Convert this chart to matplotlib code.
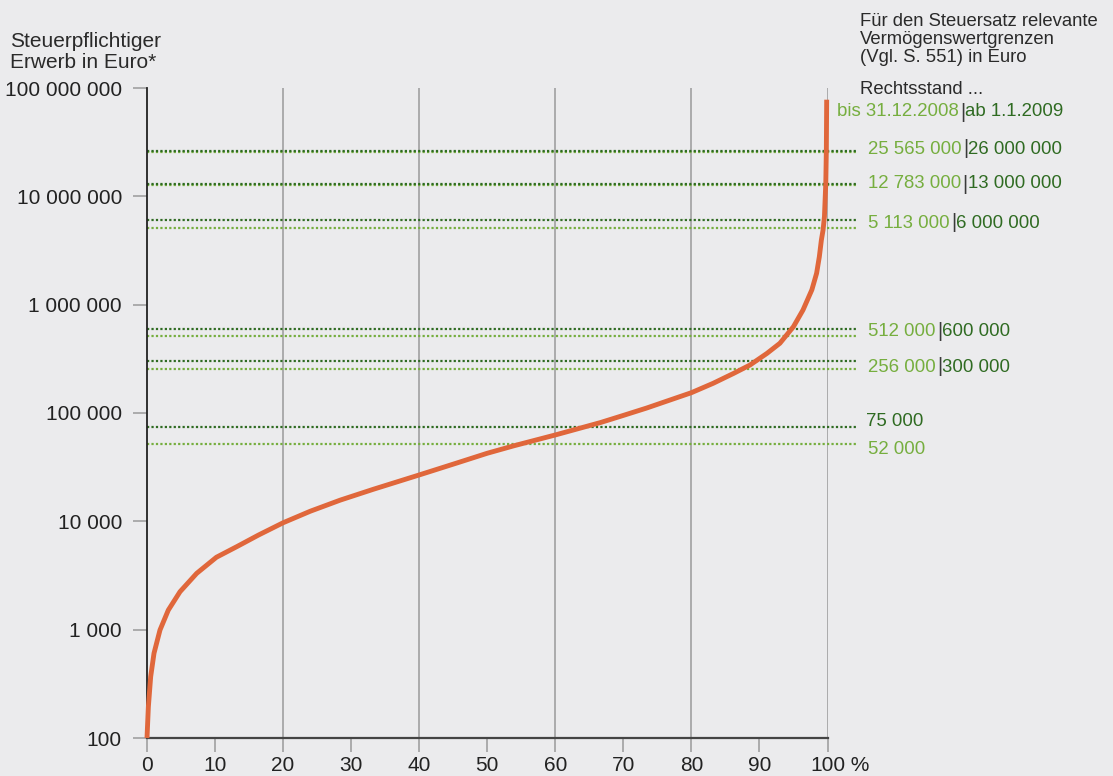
import matplotlib.pyplot as plt
from matplotlib.ticker import FixedLocator, NullLocator

plt.rcParams['font.family'] = ['Liberation Sans', 'DejaVu Sans']

# Anteil der Erwerbe (%) und steuerpflichtiger Erwerb (Euro)
anteil = [0, 0.2, 0.54, 1.03, 1.91, 3.13, 4.85, 7.3, 10.2, 13.2, 16.4, 20, 24,
          28.4, 33.3, 40, 45.5, 50, 53.9, 60, 66.6, 70, 73.4, 80, 83.2, 86.2,
          88.6, 91.1, 93.0, 95.0, 96.4, 97.7, 98.4, 98.8, 99.1, 99.35, 99.55,
          99.75, 99.83, 99.88]
erwerb = [100, 194, 368, 606, 993, 1515, 2240, 3310, 4660, 5840, 7480, 9700,
          12400, 15700, 19800, 26800, 34500, 42500, 49800, 62700, 81500, 95000,
          111000, 154000, 188000, 232000, 277000, 355000, 440000, 627000,
          893000, 1370000, 1950000, 2770000, 3950000, 4900000, 6500000,
          13300000, 27000000, 78000000]

# Wertgrenzen alt (bis 31.12.2008) und neu (ab 1.1.2009)
grenzen_alt = [25565000, 12783000, 5113000, 512000, 256000, 52000]
grenzen_neu = [26000000, 13000000, 6000000, 600000, 300000, 75000]
label_alt = ['25 565 000', '12 783 000', '5 113 000', '512 000', '256 000', '52 000']
label_neu = ['26 000 000', '13 000 000', '6 000 000', '600 000', '300 000', '75 000']

yticks = [100, 1000, 10000, 100000, 1000000, 10000000, 100000000]
ylabels = ['100', '1 000', '10 000', '100 000', '1 000 000', '10 000 000', '100 000 000']
xticks = list(range(0, 101, 10))

bg = '#ebebed'
hell = '#76ae3f'
dunkel = '#2f6b22'
orange = '#e0673b'

W, H = 1113, 776
fig = plt.figure(figsize=(W / 100, H / 100), dpi=100, facecolor=bg)
ax = fig.add_axes([147 / W, (H - 738) / H, 680.5 / W, (738 - 88) / H])
ax.set_facecolor(bg)
ax.set_yscale('log')
ax.set_xlim(0, 100)
ax.set_ylim(100, 1e8)

for x in [20, 40, 60, 80, 100]:
    ax.axvline(x, color='#9a9a9a', lw=1.1, zorder=1)

for v in grenzen_alt:
    ax.plot([0, 104.5], [v, v], ls=(0, (1, 1)), color=hell, lw=1.6,
            clip_on=False, zorder=2)
for v in grenzen_neu:
    ax.plot([0, 104.5], [v, v], ls=(0, (1, 1)), color=dunkel, lw=1.6,
            clip_on=False, zorder=2)

ax.plot(anteil, erwerb, color=orange, lw=3.5, solid_capstyle='butt',
        solid_joinstyle='round', zorder=3, clip_on=False)

for s in ['top', 'right']:
    ax.spines[s].set_visible(False)
ax.spines['left'].set_color('#222222')
ax.spines['left'].set_linewidth(1.3)
ax.spines['bottom'].set_color('#444444')
ax.spines['bottom'].set_linewidth(1.6)

ax.yaxis.set_major_locator(FixedLocator(yticks))
ax.yaxis.set_minor_locator(NullLocator())
ax.set_yticklabels(ylabels)
ax.set_xticks(xticks)
ax.set_xticklabels([str(x) for x in xticks])
ax.tick_params(axis='both', colors='#9a9a9a', length=10, width=1.1,
               labelcolor='#222222', labelsize=15, pad=3)
ax.tick_params(axis='y', pad=8)

# Prozentzeichen hinter der letzten Beschriftung
fig.canvas.draw()
last = ax.get_xticklabels()[-1]
ax.annotate(' %', xy=(1, 0), xycoords=last, va='bottom', ha='left',
            fontsize=15, color='#222222')

txt = '#2a2a2a'
fig.text(10 / W, 1 - 47 / H, 'Steuerpflichtiger', fontsize=15, color=txt)
fig.text(10 / W, 1 - 68 / H, 'Erwerb in Euro*', fontsize=15, color=txt)

fig.text(860 / W, 1 - 26 / H, 'Für den Steuersatz relevante', fontsize=13.3, color=txt)
fig.text(860 / W, 1 - 44 / H, 'Vermögenswertgrenzen', fontsize=13.3, color=txt)
fig.text(860 / W, 1 - 62 / H, '(Vgl. S. 551) in Euro', fontsize=13.3, color=txt)
fig.text(860 / W, 1 - 94 / H, 'Rechtsstand ...', fontsize=13.3, color=txt)


def paar(x_px, y_px, links, rechts):
    t1 = fig.text(x_px / W, 1 - y_px / H, links, fontsize=13.4, color=hell,
                  va='center')
    t2 = ax.annotate('|', xy=(1, 0.5), xycoords=t1, xytext=(1, 0),
                     textcoords='offset points', va='center', ha='left',
                     fontsize=14.5, color='#3a3a3a')
    ax.annotate(rechts, xy=(1, 0.5), xycoords=t2, va='center', ha='left',
                fontsize=13.4, color=dunkel)


paar(837, 112, 'bis 31.12.2008', 'ab 1.1.2009')
label_y = [149, 184, 223, 331, 367]
for yp, la, ln in zip(label_y, label_alt[:5], label_neu[:5]):
    paar(868, yp, la, ln)
fig.text(866 / W, 1 - 422 / H, label_neu[5], fontsize=13.4, color=dunkel, va='center')
fig.text(868 / W, 1 - 449 / H, label_alt[5], fontsize=13.4, color=hell, va='center')

fig.savefig('out.png', dpi=100, facecolor=bg)
